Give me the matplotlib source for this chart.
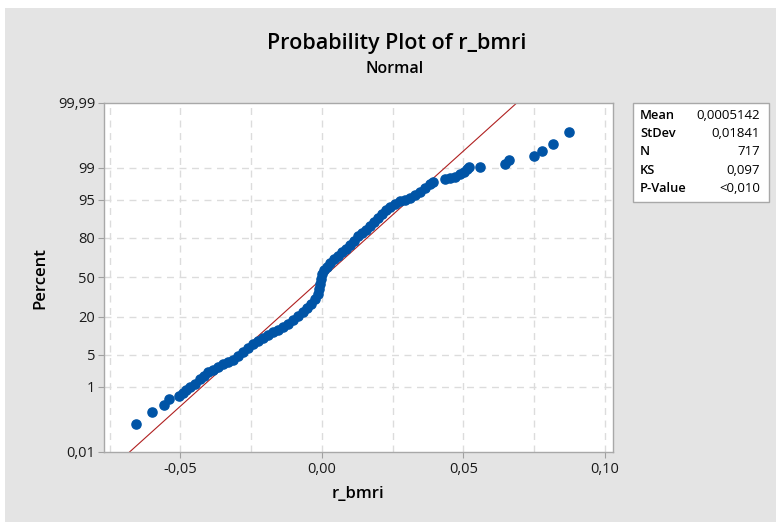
import numpy as np
import matplotlib
matplotlib.use("Agg")
import matplotlib.pyplot as plt
from matplotlib.patches import Rectangle
from statistics import NormalDist

# values (sorted sample, plotting percent)
r_bmri = [-0.06568, -0.06003, -0.05579, -0.05385, -0.05032, -0.04891, -0.04785, -0.04661,
          -0.04484, -0.04308, -0.04167, -0.04025, -0.03849, -0.03672, -0.03496, -0.03319,
          -0.03143, -0.02966, -0.02790, -0.02613, -0.02436, -0.02260, -0.02083, -0.01907,
          -0.01730, -0.01554, -0.01377, -0.01201, -0.01024, -0.00847, -0.00671, -0.00530,
          -0.00388, -0.00247, -0.00141, -0.00088, -0.00053, -0.00018, 0.00018, 0.00071,
          0.00177, 0.00282, 0.00424, 0.00565, 0.00706, 0.00847, 0.00989, 0.01130,
          0.01271, 0.01412, 0.01554, 0.01695, 0.01836, 0.01977, 0.02119, 0.02260,
          0.02401, 0.02578, 0.02754, 0.02931, 0.03107, 0.03284, 0.03460, 0.03637,
          0.03814, 0.03919, 0.04343, 0.04520, 0.04696, 0.04873, 0.05014, 0.05120,
          0.05191, 0.05597, 0.06462, 0.06603, 0.07504, 0.07758, 0.08167, 0.08722]
percent = [0.090, 0.208, 0.325, 0.466, 0.588, 0.70, 0.82, 0.97,
           1.18, 1.51, 1.77, 2.18, 2.41, 2.87, 3.17, 3.56,
           3.91, 4.69, 5.58, 6.48, 7.78, 8.76, 9.82, 10.98,
           12.02, 13.12, 14.53, 16.04, 18.22, 20.56, 23.07, 25.75,
           28.57, 32.31, 36.24, 40.30, 44.48, 48.72, 52.98, 56.36,
           58.87, 62.16, 65.36, 67.69, 70.32, 72.86, 75.61, 78.21,
           81.22, 82.90, 84.47, 86.42, 88.20, 89.80, 91.24, 92.52,
           93.39, 94.17, 94.77, 95.10, 95.52, 96.00, 96.60, 97.13,
           97.59, 97.82, 98.13, 98.27, 98.40, 98.57, 98.72, 98.91,
           99.03, 99.07, 99.22, 99.37, 99.50, 99.65, 99.77, 99.90]

mean = 0.0005142
stdev = 0.01841
stat_names = ["Mean", "StDev", "N", "KS", "P-Value"]
stat_values = ["0,0005142", "0,01841", "717", "0,097", "<0,010"]

y_ticks = [0.01, 1, 5, 20, 50, 80, 95, 99, 99.99]
y_labels = ["0,01", "1", "5", "20", "50", "80", "95", "99", "99,99"]
x_ticks = [-0.05, 0.0, 0.05, 0.10]
x_labels = ["-0,05", "0,00", "0,05", "0,10"]

nd = NormalDist()
_ppf = np.vectorize(lambda p: nd.inv_cdf(min(max(p / 100.0, 1e-12), 1 - 1e-12)), otypes=[float])
_cdf = np.vectorize(lambda z: nd.cdf(z) * 100.0, otypes=[float])

plt.rcParams['font.family'] = ['Open Sans', 'DejaVu Sans']

fig = plt.figure(figsize=(7.76, 5.22), dpi=100)
fig.patch.set_facecolor('white')
fig.patches.append(Rectangle((5 / 776, 0), 1, 1 - 8 / 522, transform=fig.transFigure,
                             facecolor='#e4e4e4', edgecolor='none', zorder=-10))

ax = fig.add_axes([0.1336, 0.1341, 0.6563, 0.6695])
ax.set_facecolor('white')
ax.set_yscale('function', functions=(lambda p: _ppf(np.asarray(p, dtype=float)),
                                     lambda z: _cdf(np.asarray(z, dtype=float))))
ax.set_xlim(-0.0771, 0.1028)
ax.set_ylim(0.01, 99.99)

# grid
for gx in np.arange(-0.075, 0.101, 0.025):
    ax.axvline(gx, color='#dcdcdc', lw=1, ls=(0, (5, 4)), zorder=0)
for gy in y_ticks[1:-1]:
    ax.axhline(gy, color='#dcdcdc', lw=1, ls=(0, (5, 4)), zorder=0)

# fitted normal line
zz = np.linspace(-3.8, 3.8, 200)
ax.plot(mean + stdev * zz, _cdf(zz), color='#b02020', lw=0.8, zorder=2)

ax.plot(r_bmri, percent, 'o', color='#0054a6', ms=6.6, mec='#0054a6', zorder=3)

ax.set_yticks(y_ticks)
ax.set_yticklabels(y_labels)
ax.set_xticks(x_ticks)
ax.set_xticklabels(x_labels)
ax.minorticks_off()
ax.tick_params(axis='both', labelsize=10.5, length=4, color='#a0a0a0', labelcolor='#1a1a1a')
ax.tick_params(axis='y', pad=2)
ax.tick_params(axis='x', pad=3)
for sp in ax.spines.values():
    sp.set_color('#a8a8a8')
    sp.set_linewidth(1)

fig.text(0.5116, 0.9176, "Probability Plot of r_bmri", ha='center', va='center',
         fontsize=15.5, fontweight='semibold')
fig.text(0.509, 0.8678, "Normal", ha='center', va='center', fontsize=11.5, fontweight='semibold')
fig.text(0.0515, 0.467, "Percent", ha='center', va='center', rotation=90,
         fontsize=12, fontweight='semibold')
fig.text(0.461, 0.0536, "r_bmri", ha='center', va='center', fontsize=12, fontweight='semibold')

# stats box
fig.patches.append(Rectangle((633 / 776, 1 - 202 / 522), 136 / 776, 99 / 522,
                             transform=fig.transFigure, facecolor='white',
                             edgecolor='#a8a8a8', lw=1))
rows_y = [115.5, 133.5, 151.7, 170, 188.3]
for name, val, yy in zip(stat_names, stat_values, rows_y):
    fig.text(640 / 776, 1 - yy / 522, name, ha='left', va='center', fontsize=9.3,
             fontweight='semibold')
    fig.text(760 / 776, 1 - yy / 522, val, ha='right', va='center', fontsize=9.5)

fig.savefig("out.png", dpi=100, facecolor=fig.get_facecolor())
